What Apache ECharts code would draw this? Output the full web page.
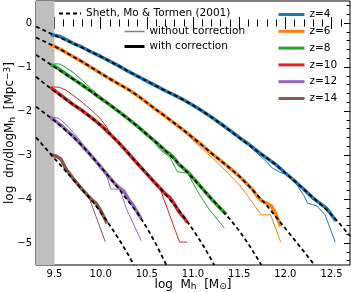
<!DOCTYPE html>
<html><head><meta charset="utf-8">
<script src="https://cdn.jsdelivr.net/npm/echarts@6/dist/echarts.min.js"></script>
<style>html,body{margin:0;padding:0;background:#fff}#c{width:351px;height:292px}</style>
</head><body><div id="c"></div>
<script>
// ---- tick labels ----
const xTicks = [9.5, 10.0, 10.5, 11.0, 11.5, 12.0, 12.5];
const yTicks = [-5, -4, -3, -2, -1, 0];
const xMinor = [9.4,9.5,9.6,9.7,9.8,9.9,10.0,10.1,10.2,10.3,10.4,10.5,10.6,10.7,10.8,10.9,11.0,11.1,11.2,11.3,11.4,11.5,11.6,11.7,11.8,11.9,12.0,12.1,12.2,12.3,12.4,12.5,12.6];
const yMinor = [-5.4,-5.2,-5.0,-4.8,-4.6,-4.4,-4.2,-4.0,-3.8,-3.6,-3.4,-3.2,-3.0,-2.8,-2.6,-2.4,-2.2,-2.0,-1.8,-1.6,-1.4,-1.2,-1.0,-0.8,-0.6,-0.4,-0.2,0.0,0.2,0.4];
const shadeRange = [9.3, 9.5];
const redshifts = ['z=4', 'z=6', 'z=8', 'z=10', 'z=12', 'z=14'];
const colors = ['#1f77b4', '#ff7f0e', '#2ca02c', '#d62728', '#9467bd', '#8c564b'];

// ---- z=4 ----
const smt4 = [[9.3,-0.08],[9.4,-0.18],[9.5,-0.28],[9.6,-0.37],[9.7,-0.46],[9.8,-0.56],[9.9,-0.66],[10.0,-0.76],[10.1,-0.87],[10.2,-0.98],[10.3,-1.10],[10.4,-1.21],[10.5,-1.32],[10.6,-1.43],[10.7,-1.54],[10.8,-1.64],[10.9,-1.75],[11.0,-1.87],[11.1,-2.00],[11.2,-2.14],[11.3,-2.29],[11.4,-2.45],[11.5,-2.61],[11.6,-2.76],[11.7,-2.92],[11.8,-3.07],[11.9,-3.23],[12.0,-3.41],[12.1,-3.59],[12.2,-3.78],[12.3,-3.97],[12.4,-4.15],[12.5,-4.36],[12.6,-4.59],[12.7,-4.84]];
const corr4 = [[9.46,-0.26],[9.5,-0.28],[9.55,-0.30],[9.6,-0.35],[9.7,-0.46],[9.8,-0.55],[9.9,-0.66],[10.0,-0.76],[10.1,-0.87],[10.2,-0.98],[10.3,-1.10],[10.4,-1.21],[10.5,-1.32],[10.6,-1.43],[10.7,-1.54],[10.8,-1.64],[10.9,-1.75],[11.0,-1.87],[11.1,-2.00],[11.2,-2.14],[11.3,-2.29],[11.4,-2.44],[11.5,-2.60],[11.6,-2.75],[11.7,-2.92],[11.8,-3.07],[11.9,-3.22],[12.0,-3.41],[12.1,-3.59],[12.2,-3.78],[12.3,-3.98],[12.4,-4.14],[12.45,-4.22],[12.55,-4.50]];
const nocorr4 = [[9.46,-0.26],[9.5,-0.28],[9.55,-0.30],[9.6,-0.35],[9.7,-0.46],[9.8,-0.55],[9.9,-0.66],[10.0,-0.76],[10.1,-0.87],[10.2,-0.98],[10.3,-1.10],[10.4,-1.21],[10.5,-1.32],[10.6,-1.43],[10.7,-1.54],[10.8,-1.64],[10.9,-1.75],[11.0,-1.87],[11.1,-2.00],[11.2,-2.14],[11.3,-2.29],[11.4,-2.44],[11.5,-2.61],[11.6,-2.78],[11.7,-2.97],[11.8,-3.16],[11.86,-3.30],[11.95,-3.40],[12.04,-3.47],[12.1,-3.60],[12.2,-3.92],[12.24,-4.09],[12.34,-4.16],[12.43,-4.36],[12.54,-4.98]];

// ---- z=6 ----
const smt6 = [[9.3,-0.33],[9.4,-0.43],[9.5,-0.53],[9.6,-0.64],[9.7,-0.76],[9.8,-0.88],[9.9,-1.01],[10.0,-1.14],[10.1,-1.27],[10.2,-1.39],[10.3,-1.51],[10.4,-1.65],[10.5,-1.81],[10.6,-1.97],[10.7,-2.12],[10.8,-2.28],[10.9,-2.44],[11.0,-2.61],[11.1,-2.78],[11.2,-2.96],[11.3,-3.13],[11.4,-3.30],[11.5,-3.48],[11.6,-3.69],[11.7,-3.92],[11.8,-4.15],[11.9,-4.41],[12.0,-4.67],[12.1,-4.93],[12.2,-5.19],[12.3,-5.46],[12.32,-5.5]];
const corr6 = [[9.46,-0.50],[9.5,-0.53],[9.6,-0.64],[9.7,-0.76],[9.8,-0.88],[9.9,-1.01],[10.0,-1.14],[10.1,-1.27],[10.2,-1.39],[10.3,-1.51],[10.4,-1.65],[10.5,-1.81],[10.6,-1.97],[10.7,-2.12],[10.8,-2.28],[10.9,-2.44],[11.0,-2.61],[11.1,-2.78],[11.2,-2.96],[11.3,-3.13],[11.4,-3.30],[11.5,-3.48],[11.6,-3.69],[11.65,-3.80],[11.7,-3.95],[11.75,-4.05],[11.8,-4.10],[11.85,-4.16],[11.9,-4.36],[11.95,-4.62]];
const nocorr6 = [[9.46,-0.50],[9.5,-0.53],[9.6,-0.64],[9.7,-0.76],[9.8,-0.88],[9.9,-1.01],[10.0,-1.14],[10.1,-1.27],[10.2,-1.39],[10.3,-1.51],[10.4,-1.65],[10.5,-1.81],[10.6,-1.97],[10.7,-2.12],[10.8,-2.28],[10.9,-2.45],[11.0,-2.67],[11.1,-2.86],[11.2,-3.05],[11.3,-3.25],[11.4,-3.46],[11.5,-3.68],[11.6,-3.95],[11.7,-4.25],[11.74,-4.36],[11.84,-4.36],[11.95,-4.98]];

// ---- z=8 ----
const smt8 = [[9.3,-0.72],[9.4,-0.86],[9.5,-1.00],[9.6,-1.14],[9.7,-1.27],[9.8,-1.41],[9.9,-1.56],[10.0,-1.71],[10.1,-1.86],[10.2,-2.02],[10.3,-2.18],[10.4,-2.35],[10.5,-2.53],[10.6,-2.71],[10.7,-2.90],[10.8,-3.10],[10.9,-3.31],[11.0,-3.53],[11.1,-3.76],[11.2,-3.99],[11.3,-4.22],[11.4,-4.46],[11.5,-4.72],[11.6,-5.02],[11.7,-5.36],[11.74,-5.5]];
const corr8 = [[9.46,-0.95],[9.5,-0.98],[9.6,-1.12],[9.7,-1.27],[9.8,-1.41],[9.9,-1.56],[10.0,-1.71],[10.1,-1.86],[10.2,-2.02],[10.3,-2.18],[10.4,-2.35],[10.5,-2.53],[10.6,-2.71],[10.7,-2.90],[10.75,-2.98],[10.8,-3.08],[10.85,-3.22],[10.9,-3.31],[10.95,-3.40],[11.0,-3.52],[11.1,-3.76],[11.2,-4.00],[11.3,-4.22],[11.36,-4.35]];
const nocorr8 = [[9.46,-0.95],[9.5,-0.93],[9.55,-0.93],[9.6,-0.98],[9.7,-1.12],[9.8,-1.30],[9.9,-1.50],[10.0,-1.68],[10.1,-1.85],[10.2,-2.02],[10.3,-2.18],[10.4,-2.35],[10.5,-2.53],[10.6,-2.76],[10.65,-2.89],[10.75,-3.05],[10.83,-3.38],[10.94,-3.41],[11.07,-3.90],[11.18,-4.25],[11.34,-4.66]];

// ---- z=10 ----
const smt10 = [[9.3,-1.22],[9.4,-1.39],[9.5,-1.55],[9.6,-1.70],[9.7,-1.85],[9.8,-1.99],[9.9,-2.15],[10.0,-2.32],[10.1,-2.52],[10.2,-2.73],[10.3,-2.96],[10.4,-3.20],[10.5,-3.43],[10.6,-3.66],[10.7,-3.89],[10.8,-4.13],[10.9,-4.40],[11.0,-4.70],[11.1,-5.02],[11.2,-5.38],[11.23,-5.5]];
const corr10 = [[9.46,-1.47],[9.5,-1.53],[9.6,-1.69],[9.7,-1.85],[9.8,-1.99],[9.9,-2.15],[10.0,-2.32],[10.1,-2.52],[10.2,-2.73],[10.3,-2.96],[10.4,-3.20],[10.5,-3.43],[10.6,-3.66],[10.7,-3.88],[10.75,-3.97],[10.8,-4.12],[10.85,-4.30],[10.9,-4.42],[10.94,-4.53]];
const nocorr10 = [[9.46,-1.45],[9.55,-1.46],[9.62,-1.52],[9.7,-1.64],[9.8,-1.80],[9.9,-1.98],[10.0,-2.18],[10.07,-2.38],[10.1,-2.50],[10.2,-2.73],[10.3,-2.96],[10.4,-3.20],[10.5,-3.43],[10.6,-3.66],[10.64,-3.75],[10.855,-4.98],[10.94,-4.98]];

// ---- z=12 ----
const smt12 = [[9.3,-1.90],[9.4,-2.06],[9.5,-2.22],[9.6,-2.40],[9.7,-2.58],[9.8,-2.79],[9.9,-3.02],[10.0,-3.27],[10.1,-3.52],[10.2,-3.78],[10.3,-4.05],[10.4,-4.32],[10.5,-4.65],[10.6,-5.03],[10.7,-5.45],[10.71,-5.5]];
const corr12 = [[9.46,-2.15],[9.5,-2.21],[9.6,-2.38],[9.7,-2.57],[9.8,-2.79],[9.9,-3.02],[10.0,-3.27],[10.1,-3.52],[10.15,-3.64],[10.2,-3.74],[10.25,-3.82],[10.3,-4.00],[10.35,-4.14],[10.44,-4.45]];
const nocorr12 = [[9.46,-2.13],[9.55,-2.17],[9.65,-2.36],[9.75,-2.60],[9.85,-2.87],[9.95,-3.13],[10.05,-3.40],[10.08,-3.57],[10.11,-3.77],[10.21,-3.78],[10.28,-4.23],[10.44,-4.95]];

// ---- z=14 ----
const smt14 = [[9.3,-2.60],[9.4,-2.84],[9.5,-3.08],[9.6,-3.31],[9.7,-3.55],[9.8,-3.79],[9.9,-4.02],[10.0,-4.30],[10.1,-4.60],[10.2,-4.92],[10.3,-5.27],[10.36,-5.5]];
const corr14 = [[9.46,-2.99],[9.52,-3.03],[9.57,-3.09],[9.62,-3.30],[9.7,-3.53],[9.8,-3.78],[9.9,-4.01],[9.95,-4.10],[10.0,-4.26],[10.07,-4.55]];
const nocorr14 = [[9.46,-2.97],[9.52,-3.00],[9.57,-3.07],[9.62,-3.27],[9.7,-3.50],[9.8,-3.76],[9.87,-3.94],[9.95,-4.40],[10.05,-4.97]];

const smtAll = [smt4, smt6, smt8, smt10, smt12, smt14];
const corrAll = [corr4, corr6, corr8, corr10, corr12, corr14];
const nocorrAll = [nocorr4, nocorr6, nocorr8, nocorr10, nocorr12, nocorr14];

const FONT = 'DejaVu Sans';
const series = [];
series.push({type:'line', data:[], z:1, silent:true,
  markArea:{silent:true, itemStyle:{color:'#bfbfbf'}, data:[[{xAxis:shadeRange[0]},{xAxis:shadeRange[1]}]]}});
for (let i = 0; i < 6; i++) {
  series.push({type:'line', data:nocorrAll[i], symbol:'none', z:2, silent:true,
    lineStyle:{color:colors[i], width:1}});
  series.push({name:redshifts[i], type:'line', data:corrAll[i], symbol:'none', z:3, silent:true,
    color:colors[i], lineStyle:{color:colors[i], width:3.5}});
  series.push({name: i===0 ? 'Sheth, Mo & Tormen (2001)' : undefined, type:'line', data:smtAll[i], symbol:'none', z:4, silent:true,
    color:'#000', lineStyle:{color:'#000', width:1.8, type:[4,3]}});
}
series.push({name:'without correction', type:'line', data:[], symbol:'none', color:'#808080', lineStyle:{color:'#808080', width:1.5}});
series.push({name:'with correction', type:'line', data:[], symbol:'none', color:'#000', lineStyle:{color:'#000', width:3}});

function xAx(pos, vals, len, labels) {
  return {type:'value', min:9.3, max:12.7, position:pos, splitLine:{show:false}, axisLine:{show:false},
    axisTick:{show:true, inside:true, length:len, customValues:vals, lineStyle:{color:'#000', width:1}},
    axisLabel:{show:labels, customValues:vals, margin:4, color:'#000', fontFamily:FONT, fontSize:10,
      formatter:v => v.toFixed(1)},
    name: labels ? 'log  M{s|h}  [M{s|⊙}]' : '', nameLocation:'middle', nameGap:12.5, nameMoveOverlap:false,
    nameTextStyle:{color:'#000', fontFamily:FONT, fontSize:12, lineHeight:14,
      rich:{s:{fontFamily:FONT, fontSize:9, lineHeight:9, verticalAlign:'bottom', color:'#000'}}}};
}
function yAx(pos, vals, len, labels) {
  return {type:'value', min:-5.5, max:0.5, position:pos, splitLine:{show:false}, axisLine:{show:false},
    axisTick:{show:true, inside:true, length:len, customValues:vals, lineStyle:{color:'#000', width:1}},
    axisLabel:{show:labels, customValues:vals, margin:4, color:'#000', fontFamily:FONT, fontSize:10,
      formatter:v => (v < 0 ? '\u2212' + Math.abs(v) : String(v))},
    name: labels ? 'log  dn/dlogM{s|h}  [Mpc{p|\u22123}]' : '', nameLocation:'middle', nameGap:19, nameRotate:90, nameMoveOverlap:false,
    nameTextStyle:{color:'#000', fontFamily:FONT, fontSize:12, lineHeight:14,
      rich:{s:{fontFamily:FONT, fontSize:9, lineHeight:9, verticalAlign:'bottom', color:'#000'},
            p:{fontFamily:FONT, fontSize:9, lineHeight:9, verticalAlign:'top', color:'#000'}}}};
}

const legText = {color:'#000', fontFamily:FONT, fontSize:10.5};
const legItem = {opacity:0, color:'transparent', borderColor:'transparent', borderWidth:0};
const option = {
  animation:false,
  backgroundColor:'#fff',
  grid:{left:36, top:1, right:1, bottom:27, outerBoundsMode:'none', containLabel:false, show:true, borderColor:'#000', borderWidth:1, backgroundColor:'transparent'},
  xAxis:[xAx('bottom', xTicks, 6, true), xAx('top', xTicks, 6, false), xAx('bottom', xMinor, 3.5, false), xAx('top', xMinor, 3.5, false)],
  yAxis:[yAx('left', yTicks, 6, true), yAx('right', yTicks, 6, false), yAx('left', yMinor, 3.5, false), yAx('right', yMinor, 3.5, false)],
  legend:[
    {data:['Sheth, Mo & Tormen (2001)'], left:58, top:8, itemWidth:22, itemHeight:12, selectedMode:false, textStyle:legText, itemStyle:legItem, lineStyle:{width:2}, padding:0},
    {data:[{name:'without correction', lineStyle:{width:1.5, color:'#808080'}}, {name:'with correction', lineStyle:{width:3, color:'#000'}}],
      orient:'vertical', left:123, top:26, itemGap:4, itemWidth:20, itemHeight:12, selectedMode:false, textStyle:legText, itemStyle:legItem, padding:0},
    {data:redshifts, orient:'vertical', left:277, top:9, itemGap:5.8, itemWidth:26, itemHeight:12, selectedMode:false, textStyle:legText, itemStyle:legItem, lineStyle:{width:3}, padding:0}
  ],
  series: series
};
const chart = echarts.init(document.getElementById('c'), null, {renderer:'canvas'});
chart.setOption(option);
</script></body></html>
